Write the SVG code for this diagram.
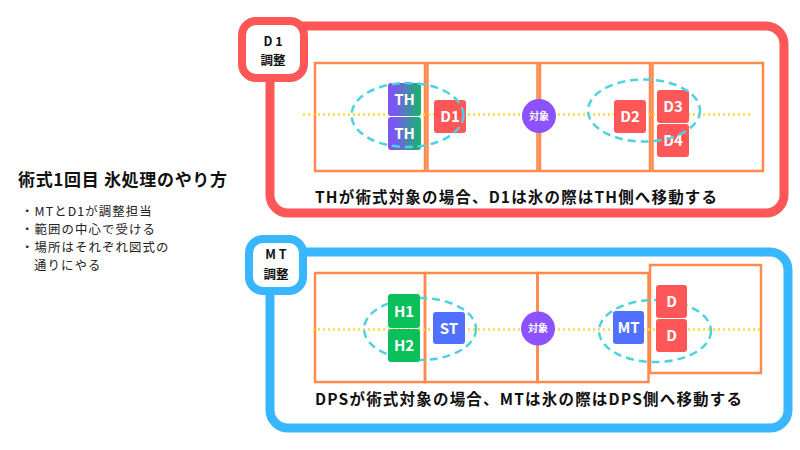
<svg xmlns="http://www.w3.org/2000/svg" width="800" height="450" viewBox="0 0 800 450">
<defs>
<linearGradient id="thg" x1="0" y1="0" x2="1" y2="0">
<stop offset="0.2" stop-color="#7B57F2"/>
<stop offset="1" stop-color="#14B86A"/>
</linearGradient>
<style>
text{font-family:"Noto Sans CJK JP","Noto Sans",sans-serif}
.panelR{fill:#fff;stroke:#FF5757;stroke-width:9}
.panelB{fill:#fff;stroke:#38B6FF;stroke-width:9}
.lblR{fill:#fff;stroke:#FF5757;stroke-width:8}
.lblB{fill:#fff;stroke:#38B6FF;stroke-width:8}
.lbl{font-size:12.5px;font-weight:700;fill:#111;text-anchor:middle}
.cell{fill:none;stroke:#FF8A4C;stroke-width:2.5}
.dot{stroke:#FFD83B;stroke-width:2.5;stroke-dasharray:2 3;fill:none}
.ell{fill:none;stroke:#4DD2E0;stroke-width:2.5;stroke-dasharray:8 5}
.red{fill:#FF5757}
.blu{fill:#5170FF}
.grn{fill:#0BBF5A}
.bt{font-size:15px;font-weight:700;fill:#fff;text-anchor:middle}
.tg{fill:#8C52FF}
.tt{font-size:10px;font-weight:700;fill:#fff;text-anchor:middle}
.cap{font-size:15.5px;font-weight:700;fill:#111}
.body{font-size:12.4px;letter-spacing:1.1px;fill:#222}
</style>
</defs>
<rect width="800" height="450" fill="#fff"/>

<g id="intro">
<text x="18" y="186" font-size="17" font-weight="700" fill="#111" textLength="209" lengthAdjust="spacing">術式1回目 氷処理のやり方</text>
<text class="body" x="21" y="216">・MTとD1が調整担当</text>
<text class="body" x="21" y="234">・範囲の中心で受ける</text>
<text class="body" x="21" y="252">・場所はそれぞれ図式の</text>
<text class="body" x="34" y="270">通りにやる</text>
</g>

<g id="panel-d1">
<rect class="panelR" x="270" y="26" width="514" height="187" rx="18"/>
<rect class="lblR" x="242" y="21" width="62" height="57" rx="14"/>
<text class="lbl" x="273" y="46">D 1</text>
<text class="lbl" x="273" y="65">調整</text>
<rect class="cell" x="315" y="63" width="110" height="108"/>
<rect class="cell" x="427.5" y="63" width="110" height="108"/>
<rect class="cell" x="540" y="63" width="110" height="108"/>
<rect class="cell" x="652.5" y="63" width="110.5" height="108"/>
<text class="cap" x="315" y="203" textLength="402" lengthAdjust="spacing">THが術式対象の場合、D1は氷の際はTH側へ移動する</text>
</g>

<g id="panel-mt">
<rect class="panelB" x="270" y="252" width="518" height="176" rx="18"/>
<rect class="lblB" x="249" y="239" width="54" height="52" rx="14"/>
<text class="lbl" x="276" y="259">M T</text>
<text class="lbl" x="276" y="279">調整</text>
<rect class="cell" x="315" y="273" width="110" height="109"/>
<rect class="cell" x="425" y="273" width="112.5" height="109"/>
<rect class="cell" x="537.5" y="273" width="111" height="109"/>
<rect class="cell" x="650" y="265" width="111" height="108"/>
<text class="cap" x="315" y="405" textLength="427" lengthAdjust="spacing">DPSが術式対象の場合、MTは氷の際はDPS側へ移動する</text>
</g>

<g id="connectors">
<line class="dot" x1="303" y1="114.5" x2="752" y2="114.5"/>
<line class="dot" x1="313" y1="329.5" x2="760" y2="329.5"/>
</g>

<g id="range3"><ellipse class="ell" cx="420" cy="329" rx="56" ry="31"/></g>
<g id="range4"><ellipse class="ell" cx="655" cy="331" rx="56" ry="31"/></g>

<g id="node-th1"><rect x="388" y="83" width="33" height="33" rx="3" fill="url(#thg)"/><text class="bt" x="404.5" y="105">TH</text></g>
<g id="node-th2"><rect x="388" y="117" width="33" height="33" rx="3" fill="url(#thg)"/><text class="bt" x="404.5" y="139">TH</text></g>
<g id="node-d1"><rect class="red" x="434" y="100" width="32" height="33" rx="3"/><text class="bt" x="450" y="122">D1</text></g>
<g id="node-target1"><circle class="tg" cx="539" cy="116" r="17"/><text class="tt" x="539" y="119.5">対象</text></g>
<g id="node-d2"><rect class="red" x="614" y="100" width="32" height="33" rx="3"/><text class="bt" x="630" y="122">D2</text></g>
<g id="node-d3"><rect class="red" x="657" y="90" width="32" height="33" rx="3"/><text class="bt" x="673" y="112">D3</text></g>
<g id="node-d4"><rect class="red" x="657" y="124" width="32" height="33" rx="3"/><text class="bt" x="673" y="146">D4</text></g>
<g id="range1"><ellipse class="ell" cx="407.5" cy="115" rx="56" ry="32"/></g>
<g id="range2"><ellipse class="ell" cx="644" cy="110.5" rx="56" ry="31"/></g>

<g id="node-h1"><rect class="grn" x="388" y="294" width="32" height="34" rx="3"/><text class="bt" x="404" y="316.5">H1</text></g>
<g id="node-h2"><rect class="grn" x="388" y="329" width="32" height="33" rx="3"/><text class="bt" x="404" y="351">H2</text></g>
<g id="node-st"><rect class="blu" x="433" y="312" width="32" height="32" rx="3"/><text class="bt" x="449" y="333.5">ST</text></g>
<g id="node-target2"><circle class="tg" cx="538" cy="328.5" r="17"/><text class="tt" x="538" y="332">対象</text></g>
<g id="node-mt"><rect class="blu" x="613" y="311" width="31" height="33" rx="3"/><text class="bt" x="628.5" y="333">MT</text></g>
<g id="node-dA"><rect class="red" x="656" y="285" width="31" height="33" rx="3"/><text class="bt" x="671.5" y="307">D</text></g>
<g id="node-dB"><rect class="red" x="656" y="319" width="31" height="33" rx="3"/><text class="bt" x="671.5" y="341">D</text></g>
</svg>
